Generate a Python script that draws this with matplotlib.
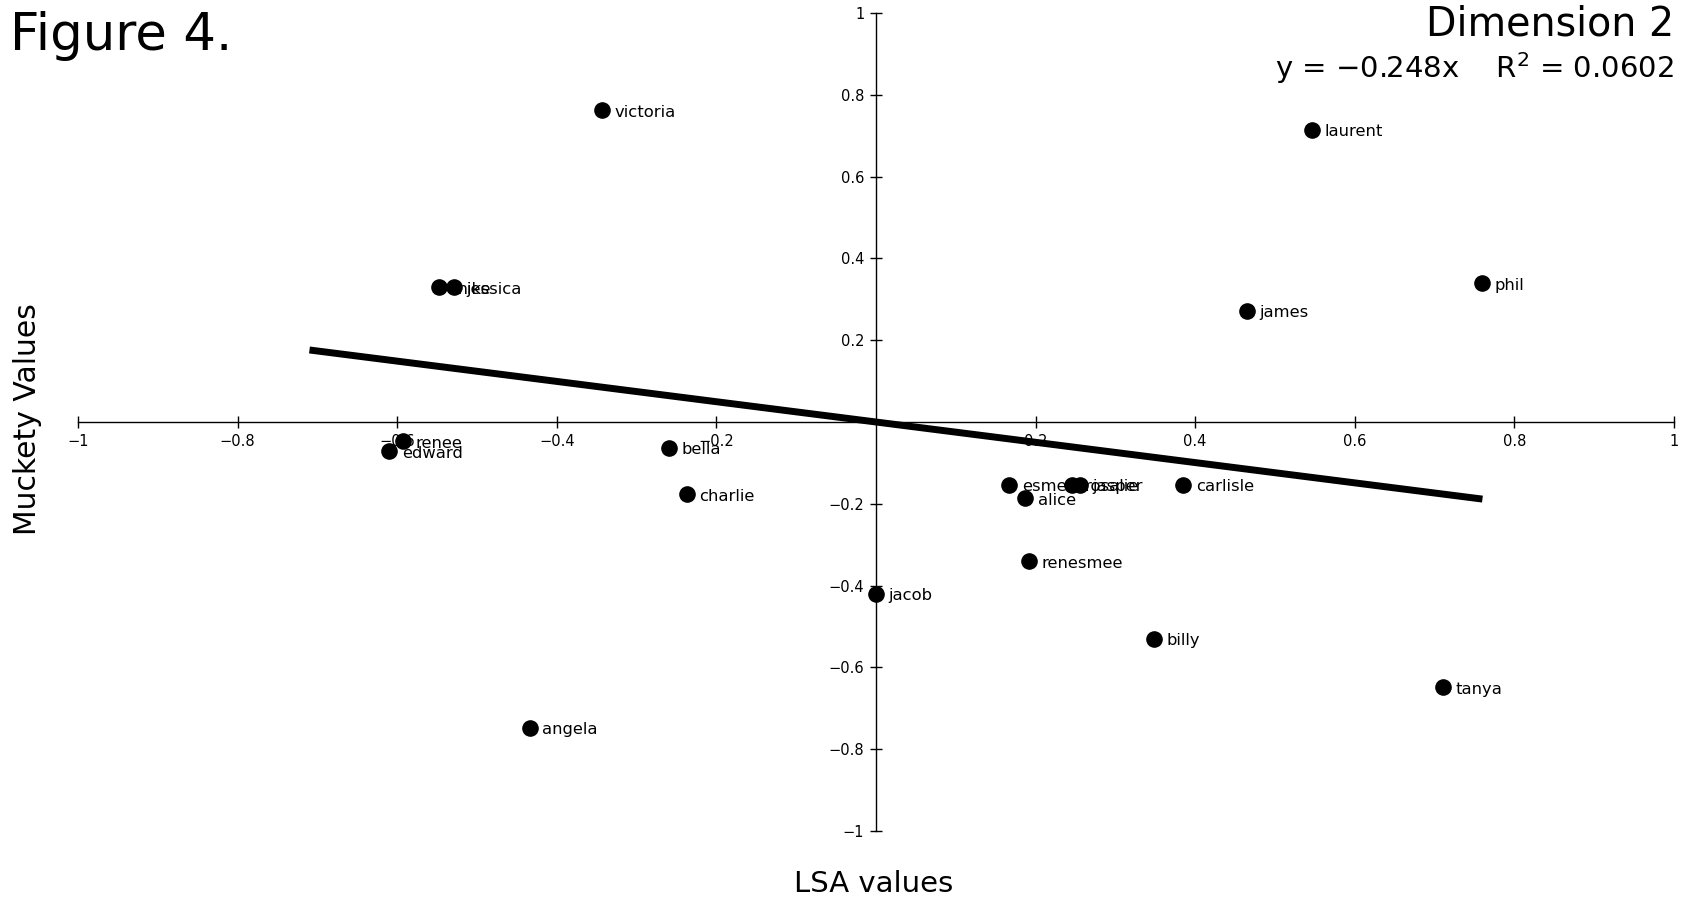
import matplotlib
matplotlib.use("Agg")
import matplotlib.pyplot as plt

names = ["victoria", "laurent", "mike", "jessica", "phil", "james", "renee",
         "edward", "bella", "charlie", "esme", "rosalie", "jasper", "alice",
         "carlisle", "renesmee", "jacob", "billy", "tanya", "angela"]
lsa = [-0.343, 0.547, -0.548, -0.529, 0.760, 0.465, -0.593,
       -0.610, -0.260, -0.237, 0.167, 0.246, 0.256, 0.187,
       0.385, 0.192, 0.000, 0.349, 0.710, -0.434]
muckety = [0.762, 0.715, 0.330, 0.330, 0.340, 0.272, -0.047,
           -0.071, -0.063, -0.177, -0.153, -0.153, -0.153, -0.187,
           -0.153, -0.340, -0.420, -0.530, -0.649, -0.747]

slope = -0.248
fit_x = [-0.71, 0.76]
ticks = [-1, -0.8, -0.6, -0.4, -0.2, 0.2, 0.4, 0.6, 0.8, 1]
tick_labels = ["\u22121", "\u22120.8", "\u22120.6", "\u22120.4", "\u22120.2",
               "0.2", "0.4", "0.6", "0.8", "1"]

plt.rcParams["font.family"] = ["DejaVu Sans"]

fig = plt.figure(figsize=(16.9, 9.02), dpi=100)
ax = fig.add_axes([0.0462, 0.0787, 0.9443, 0.9069])
ax.set_xlim(-1, 1)
ax.set_ylim(-1, 1)

ax.scatter(lsa, muckety, s=120, color="black", zorder=3)
for n, x, y in zip(names, lsa, muckety):
    ax.annotate(n, (x, y), xytext=(9, -1.5), textcoords="offset points",
                fontsize=11.8, va="center", ha="left")

ax.plot(fit_x, [slope * v for v in fit_x], color="black", lw=5,
        solid_capstyle="butt", zorder=2)

for side in ["top", "right"]:
    ax.spines[side].set_visible(False)
ax.spines["left"].set_position(("data", 0))
ax.spines["bottom"].set_position(("data", 0))
ax.spines["left"].set_linewidth(1)
ax.spines["bottom"].set_linewidth(1)

ax.set_xticks(ticks)
ax.set_xticklabels(tick_labels)
ax.set_yticks(ticks)
ax.set_yticklabels(tick_labels)
ax.tick_params(direction="inout", length=9, width=1, labelsize=10.5, pad=4)
ax.patch.set_visible(False)

fig.text(0.006, 0.945, "Figure 4.", fontsize=37, va="baseline", ha="left")
fig.text(0.9905, 0.995, "Dimension 2", fontsize=28.5, va="top", ha="right")
fig.text(0.9905, 0.913, "y = \u22120.248x    R$^2$ = 0.0602", fontsize=21,
         va="baseline", ha="right")
fig.text(0.517, 0.02, "LSA values", fontsize=21, ha="center", va="center")
fig.text(0.016, 0.535, "Muckety Values", fontsize=21.5, ha="center",
         va="center", rotation=90)

fig.savefig("out.png", dpi=100)
